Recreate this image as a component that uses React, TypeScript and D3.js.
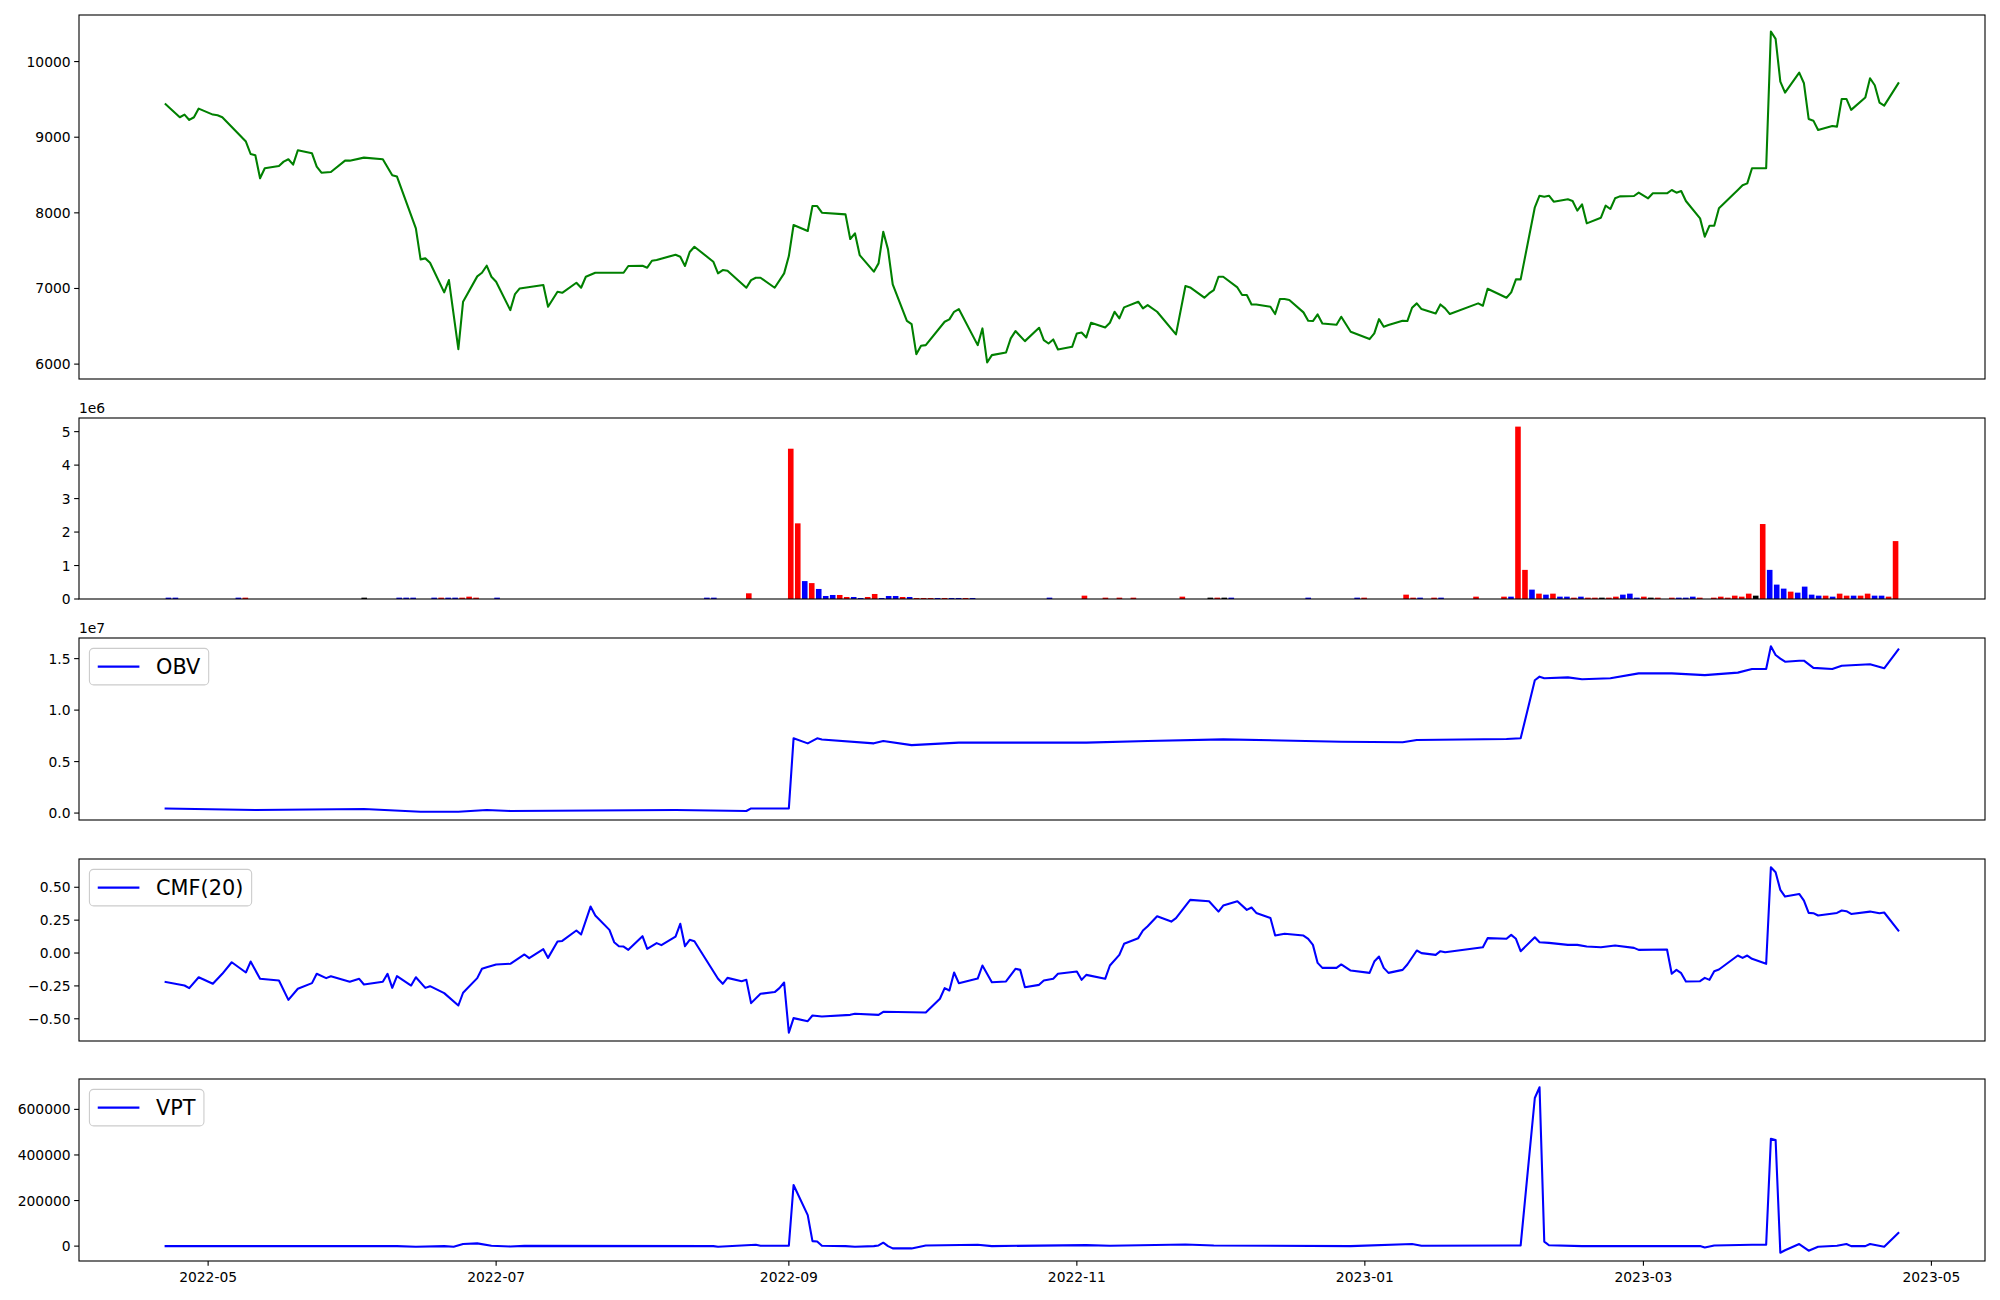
import React from "react";
import * as d3 from "d3";

// ---------------------------------------------------------------------------
// Data
// ---------------------------------------------------------------------------

const PRICE_CLOSE: [string, number][] = [
  ["2022-04-22", 9436], ["2022-04-25", 9264], ["2022-04-26", 9299], ["2022-04-27", 9228], ["2022-04-28", 9264],
  ["2022-04-29", 9378], ["2022-05-02", 9299], ["2022-05-03", 9290], ["2022-05-04", 9264], ["2022-05-09", 8942],
  ["2022-05-10", 8778], ["2022-05-11", 8761], ["2022-05-12", 8457], ["2022-05-13", 8589], ["2022-05-16", 8620],
  ["2022-05-17", 8677], ["2022-05-18", 8708], ["2022-05-19", 8637], ["2022-05-20", 8827], ["2022-05-23", 8787],
  ["2022-05-24", 8611], ["2022-05-25", 8531], ["2022-05-27", 8540], ["2022-05-30", 8690], ["2022-05-31", 8690],
  ["2022-06-03", 8730], ["2022-06-07", 8708], ["2022-06-09", 8496], ["2022-06-10", 8479], ["2022-06-14", 7795],
  ["2022-06-15", 7385], ["2022-06-16", 7398], ["2022-06-17", 7341], ["2022-06-20", 6948], ["2022-06-21", 7111],
  ["2022-06-23", 6198], ["2022-06-24", 6825], ["2022-06-27", 7160], ["2022-06-28", 7208], ["2022-06-29", 7301],
  ["2022-06-30", 7155], ["2022-07-01", 7089], ["2022-07-04", 6714], ["2022-07-05", 6926], ["2022-07-06", 7001],
  ["2022-07-11", 7045], ["2022-07-12", 6759], ["2022-07-14", 6957], ["2022-07-15", 6943], ["2022-07-18", 7076],
  ["2022-07-19", 7010], ["2022-07-20", 7155], ["2022-07-22", 7208], ["2022-07-28", 7208], ["2022-07-29", 7297],
  ["2022-08-01", 7301], ["2022-08-02", 7275], ["2022-08-03", 7367], ["2022-08-04", 7376], ["2022-08-08", 7447],
  ["2022-08-09", 7420], ["2022-08-10", 7297], ["2022-08-11", 7482], ["2022-08-12", 7552], ["2022-08-16", 7354],
  ["2022-08-17", 7200], ["2022-08-18", 7244], ["2022-08-19", 7235], ["2022-08-23", 7010], ["2022-08-24", 7111],
  ["2022-08-25", 7142], ["2022-08-26", 7142], ["2022-08-29", 7010], ["2022-08-31", 7200], ["2022-09-01", 7429],
  ["2022-09-02", 7839], ["2022-09-05", 7760], ["2022-09-06", 8090], ["2022-09-07", 8090], ["2022-09-08", 8002],
  ["2022-09-13", 7980], ["2022-09-14", 7654], ["2022-09-15", 7729], ["2022-09-16", 7442], ["2022-09-19", 7222],
  ["2022-09-20", 7332], ["2022-09-21", 7751], ["2022-09-22", 7517], ["2022-09-23", 7054], ["2022-09-26", 6573],
  ["2022-09-27", 6529], ["2022-09-28", 6132], ["2022-09-29", 6243], ["2022-09-30", 6251], ["2022-10-04", 6560],
  ["2022-10-05", 6591], ["2022-10-06", 6692], ["2022-10-07", 6728], ["2022-10-11", 6251], ["2022-10-12", 6472],
  ["2022-10-13", 6022], ["2022-10-14", 6119], ["2022-10-17", 6154], ["2022-10-18", 6340], ["2022-10-19", 6437],
  ["2022-10-21", 6304], ["2022-10-24", 6481], ["2022-10-25", 6318], ["2022-10-26", 6273], ["2022-10-27", 6326],
  ["2022-10-28", 6194], ["2022-10-31", 6229], ["2022-11-01", 6406], ["2022-11-02", 6419], ["2022-11-03", 6353],
  ["2022-11-04", 6547], ["2022-11-07", 6485], ["2022-11-08", 6547], ["2022-11-09", 6692], ["2022-11-10", 6604],
  ["2022-11-11", 6750], ["2022-11-14", 6825], ["2022-11-15", 6737], ["2022-11-16", 6781], ["2022-11-18", 6692],
  ["2022-11-22", 6393], ["2022-11-24", 7032], ["2022-11-25", 7014], ["2022-11-28", 6878], ["2022-11-29", 6935],
  ["2022-11-30", 6979], ["2022-12-01", 7155], ["2022-12-02", 7155], ["2022-12-05", 7014], ["2022-12-06", 6913],
  ["2022-12-07", 6913], ["2022-12-08", 6789], ["2022-12-09", 6789], ["2022-12-12", 6759], ["2022-12-13", 6662],
  ["2022-12-14", 6860], ["2022-12-15", 6860], ["2022-12-16", 6847], ["2022-12-19", 6684], ["2022-12-20", 6573],
  ["2022-12-21", 6569], ["2022-12-22", 6657], ["2022-12-23", 6538], ["2022-12-26", 6520], ["2022-12-27", 6626],
  ["2022-12-29", 6428], ["2023-01-02", 6331], ["2023-01-03", 6406], ["2023-01-04", 6595], ["2023-01-05", 6494],
  ["2023-01-06", 6516], ["2023-01-09", 6573], ["2023-01-10", 6569], ["2023-01-11", 6745], ["2023-01-12", 6803],
  ["2023-01-13", 6728], ["2023-01-16", 6670], ["2023-01-17", 6789], ["2023-01-18", 6737], ["2023-01-19", 6662],
  ["2023-01-25", 6803], ["2023-01-26", 6772], ["2023-01-27", 6997], ["2023-01-31", 6878], ["2023-02-01", 6948],
  ["2023-02-02", 7120], ["2023-02-03", 7120], ["2023-02-06", 8073], ["2023-02-07", 8227], ["2023-02-08", 8214],
  ["2023-02-09", 8227], ["2023-02-10", 8148], ["2023-02-13", 8179], ["2023-02-14", 8157], ["2023-02-15", 8029],
  ["2023-02-16", 8112], ["2023-02-17", 7861], ["2023-02-20", 7936], ["2023-02-21", 8095], ["2023-02-22", 8051],
  ["2023-02-23", 8192], ["2023-02-24", 8218], ["2023-02-27", 8223], ["2023-02-28", 8267], ["2023-03-02", 8192],
  ["2023-03-03", 8258], ["2023-03-06", 8258], ["2023-03-07", 8302], ["2023-03-08", 8267], ["2023-03-09", 8289],
  ["2023-03-10", 8157], ["2023-03-13", 7927], ["2023-03-14", 7685], ["2023-03-15", 7830], ["2023-03-16", 7830],
  ["2023-03-17", 8060], ["2023-03-21", 8302], ["2023-03-22", 8364], ["2023-03-23", 8390], ["2023-03-24", 8589],
  ["2023-03-27", 8589], ["2023-03-28", 10397], ["2023-03-29", 10300], ["2023-03-30", 9735], ["2023-03-31", 9590],
  ["2023-04-03", 9854], ["2023-04-04", 9713], ["2023-04-05", 9241], ["2023-04-06", 9219], ["2023-04-07", 9096],
  ["2023-04-10", 9149], ["2023-04-11", 9140], ["2023-04-12", 9506], ["2023-04-13", 9506], ["2023-04-14", 9361],
  ["2023-04-17", 9524], ["2023-04-18", 9780], ["2023-04-19", 9687], ["2023-04-20", 9458], ["2023-04-21", 9418],
  ["2023-04-24", 9713],
];

// volume bars are drawn against the trading-day index (0 .. VOLUME_DAYS-1)
const VOLUME_DAYS = 248;
// [day index, volume, R = up / B = down / K = unchanged]
const VOLUME_BARS: [number, number, string][] = [
  [0, 40000, "B"], [1, 40000, "B"], [10, 40000, "B"], [11, 40000, "R"], [28, 40000, "K"],
  [33, 40000, "B"], [34, 40000, "B"], [35, 40000, "B"], [38, 40000, "B"], [39, 40000, "R"],
  [40, 40000, "B"], [41, 40000, "B"], [42, 40000, "R"], [43, 70000, "R"], [44, 40000, "R"],
  [47, 40000, "B"], [77, 40000, "B"], [78, 40000, "B"], [83, 170000, "R"],
  [89, 4490000, "R"], [90, 2260000, "R"], [91, 535000, "B"], [92, 475000, "R"], [93, 300000, "B"],
  [94, 90000, "B"], [95, 120000, "B"], [96, 120000, "R"], [97, 60000, "R"], [98, 60000, "B"],
  [99, 30000, "B"], [100, 60000, "R"], [101, 150000, "R"], [102, 30000, "B"], [103, 90000, "B"],
  [104, 90000, "B"], [105, 60000, "R"], [106, 60000, "B"], [107, 30000, "R"], [108, 30000, "R"],
  [109, 30000, "R"], [110, 30000, "B"], [111, 30000, "R"], [112, 30000, "B"], [113, 30000, "B"],
  [114, 30000, "R"], [115, 30000, "B"],
  [126, 40000, "B"], [131, 100000, "R"], [134, 40000, "R"], [136, 40000, "R"], [138, 40000, "R"],
  [145, 70000, "R"], [149, 40000, "K"], [150, 40000, "R"], [151, 40000, "K"], [152, 40000, "B"],
  [163, 40000, "B"], [170, 40000, "B"], [171, 40000, "R"], [177, 130000, "R"], [178, 40000, "R"],
  [179, 40000, "B"], [181, 40000, "R"], [182, 40000, "B"], [187, 70000, "R"], [191, 70000, "R"],
  [192, 70000, "B"], [193, 5150000, "R"], [194, 870000, "R"], [195, 280000, "B"], [196, 160000, "R"],
  [197, 130000, "B"], [198, 160000, "R"], [199, 70000, "B"], [200, 70000, "B"], [201, 40000, "R"],
  [202, 70000, "B"], [203, 40000, "R"], [204, 40000, "R"], [205, 40000, "K"], [206, 40000, "R"],
  [207, 70000, "R"], [208, 130000, "B"], [209, 160000, "B"], [210, 40000, "B"], [211, 70000, "R"],
  [212, 40000, "K"], [213, 40000, "R"], [215, 40000, "R"], [216, 40000, "B"], [217, 40000, "B"],
  [218, 70000, "B"], [219, 40000, "R"], [221, 40000, "R"], [222, 70000, "R"], [223, 40000, "R"],
  [224, 100000, "R"], [225, 70000, "R"], [226, 160000, "R"], [227, 100000, "K"], [228, 2240000, "R"],
  [229, 870000, "B"], [230, 430000, "B"], [231, 310000, "B"], [232, 220000, "R"], [233, 190000, "B"],
  [234, 370000, "B"], [235, 130000, "B"], [236, 100000, "B"], [237, 100000, "R"], [238, 70000, "B"],
  [239, 160000, "R"], [240, 100000, "R"], [241, 100000, "B"], [242, 100000, "R"], [243, 160000, "R"],
  [244, 100000, "B"], [245, 100000, "B"], [246, 70000, "R"], [247, 1730000, "R"],
];

const OBV: [string, number][] = [
  ["2022-04-22", 450000], ["2022-05-11", 300000], ["2022-06-03", 400000], ["2022-06-15", 130000],
  ["2022-06-23", 130000], ["2022-06-29", 300000], ["2022-07-04", 200000], ["2022-08-08", 300000],
  ["2022-08-23", 200000], ["2022-08-24", 450000], ["2022-09-01", 450000], ["2022-09-02", 7260000],
  ["2022-09-05", 6770000], ["2022-09-07", 7260000], ["2022-09-08", 7150000], ["2022-09-19", 6770000],
  ["2022-09-21", 7000000], ["2022-09-27", 6600000], ["2022-10-07", 6840000], ["2022-10-20", 6840000],
  ["2022-11-03", 6840000], ["2022-11-16", 7000000], ["2022-12-02", 7160000], ["2022-12-27", 6930000],
  ["2023-01-09", 6870000], ["2023-01-12", 7100000], ["2023-01-31", 7200000], ["2023-02-03", 7260000],
  ["2023-02-06", 12900000], ["2023-02-07", 13250000], ["2023-02-08", 13100000], ["2023-02-13", 13180000],
  ["2023-02-16", 13000000], ["2023-02-22", 13100000], ["2023-02-28", 13570000], ["2023-03-07", 13570000],
  ["2023-03-14", 13400000], ["2023-03-21", 13640000], ["2023-03-24", 14000000], ["2023-03-27", 14000000],
  ["2023-03-28", 16200000], ["2023-03-29", 15350000], ["2023-03-30", 15000000], ["2023-03-31", 14700000],
  ["2023-04-03", 14800000], ["2023-04-04", 14800000], ["2023-04-06", 14100000], ["2023-04-10", 14000000],
  ["2023-04-12", 14300000], ["2023-04-18", 14450000], ["2023-04-21", 14060000], ["2023-04-24", 15900000],
];

const CMF20: [string, number][] = [
  ["2022-04-22", -0.22], ["2022-04-26", -0.247], ["2022-04-27", -0.267], ["2022-04-29", -0.184],
  ["2022-05-02", -0.234], ["2022-05-04", -0.158], ["2022-05-06", -0.07], ["2022-05-09", -0.148],
  ["2022-05-10", -0.065], ["2022-05-12", -0.196], ["2022-05-16", -0.209], ["2022-05-18", -0.356],
  ["2022-05-20", -0.272], ["2022-05-23", -0.229], ["2022-05-24", -0.158], ["2022-05-26", -0.191],
  ["2022-05-27", -0.176], ["2022-05-31", -0.219], ["2022-06-02", -0.196], ["2022-06-03", -0.239],
  ["2022-06-07", -0.219], ["2022-06-08", -0.158], ["2022-06-09", -0.265], ["2022-06-10", -0.176],
  ["2022-06-13", -0.247], ["2022-06-14", -0.184], ["2022-06-16", -0.265], ["2022-06-17", -0.252],
  ["2022-06-20", -0.305], ["2022-06-23", -0.399], ["2022-06-24", -0.302], ["2022-06-27", -0.191],
  ["2022-06-28", -0.12], ["2022-06-29", -0.108], ["2022-07-01", -0.087], ["2022-07-04", -0.082],
  ["2022-07-07", -0.011], ["2022-07-08", -0.039], ["2022-07-11", 0.029], ["2022-07-12", -0.037],
  ["2022-07-14", 0.087], ["2022-07-15", 0.092], ["2022-07-18", 0.171], ["2022-07-19", 0.141],
  ["2022-07-21", 0.353], ["2022-07-22", 0.285], ["2022-07-25", 0.176], ["2022-07-26", 0.082],
  ["2022-07-27", 0.052], ["2022-07-28", 0.049], ["2022-07-29", 0.024], ["2022-08-01", 0.128],
  ["2022-08-02", 0.032], ["2022-08-04", 0.075], ["2022-08-05", 0.06], ["2022-08-08", 0.125],
  ["2022-08-09", 0.222], ["2022-08-10", 0.052], ["2022-08-11", 0.1], ["2022-08-12", 0.09],
  ["2022-08-17", -0.196], ["2022-08-18", -0.234], ["2022-08-19", -0.189], ["2022-08-22", -0.214],
  ["2022-08-23", -0.204], ["2022-08-24", -0.381], ["2022-08-26", -0.31], ["2022-08-29", -0.297],
  ["2022-08-30", -0.267], ["2022-08-31", -0.224], ["2022-09-01", -0.606], ["2022-09-02", -0.495],
  ["2022-09-05", -0.518], ["2022-09-06", -0.475], ["2022-09-08", -0.482], ["2022-09-14", -0.47],
  ["2022-09-15", -0.462], ["2022-09-20", -0.47], ["2022-09-21", -0.447], ["2022-09-30", -0.452],
  ["2022-10-03", -0.348], ["2022-10-04", -0.267], ["2022-10-05", -0.285], ["2022-10-06", -0.148],
  ["2022-10-07", -0.229], ["2022-10-11", -0.194], ["2022-10-12", -0.095], ["2022-10-14", -0.222],
  ["2022-10-17", -0.216], ["2022-10-19", -0.12], ["2022-10-20", -0.128], ["2022-10-21", -0.26],
  ["2022-10-24", -0.242], ["2022-10-25", -0.209], ["2022-10-27", -0.196], ["2022-10-28", -0.158],
  ["2022-11-01", -0.14], ["2022-11-02", -0.204], ["2022-11-03", -0.166], ["2022-11-07", -0.196],
  ["2022-11-08", -0.095], ["2022-11-10", -0.014], ["2022-11-11", 0.07], ["2022-11-14", 0.113],
  ["2022-11-15", 0.171], ["2022-11-16", 0.204], ["2022-11-18", 0.28], ["2022-11-21", 0.239],
  ["2022-11-22", 0.265], ["2022-11-25", 0.404], ["2022-11-29", 0.394], ["2022-12-01", 0.315],
  ["2022-12-02", 0.361], ["2022-12-05", 0.394], ["2022-12-07", 0.328], ["2022-12-08", 0.346],
  ["2022-12-09", 0.305], ["2022-12-12", 0.267], ["2022-12-13", 0.133], ["2022-12-15", 0.146],
  ["2022-12-19", 0.133], ["2022-12-20", 0.108], ["2022-12-21", 0.062], ["2022-12-22", -0.075],
  ["2022-12-23", -0.113], ["2022-12-26", -0.113], ["2022-12-27", -0.087], ["2022-12-29", -0.133],
  ["2023-01-02", -0.151], ["2023-01-03", -0.065], ["2023-01-04", -0.027], ["2023-01-05", -0.113],
  ["2023-01-06", -0.151], ["2023-01-09", -0.128], ["2023-01-10", -0.087], ["2023-01-12", 0.019],
  ["2023-01-13", -0.001], ["2023-01-16", -0.014], ["2023-01-17", 0.014], ["2023-01-18", 0.006],
  ["2023-01-26", 0.044], ["2023-01-27", 0.113], ["2023-01-31", 0.108], ["2023-02-01", 0.138],
  ["2023-02-02", 0.108], ["2023-02-03", 0.014], ["2023-02-06", 0.12], ["2023-02-07", 0.082],
  ["2023-02-09", 0.077], ["2023-02-13", 0.062], ["2023-02-15", 0.062], ["2023-02-17", 0.049],
  ["2023-02-20", 0.044], ["2023-02-23", 0.057], ["2023-02-27", 0.039], ["2023-02-28", 0.024],
  ["2023-03-06", 0.027], ["2023-03-07", -0.158], ["2023-03-08", -0.128], ["2023-03-09", -0.153],
  ["2023-03-10", -0.216], ["2023-03-13", -0.214], ["2023-03-14", -0.189], ["2023-03-15", -0.204],
  ["2023-03-16", -0.138], ["2023-03-17", -0.125], ["2023-03-21", -0.019], ["2023-03-22", -0.037],
  ["2023-03-23", -0.019], ["2023-03-24", -0.044], ["2023-03-27", -0.082], ["2023-03-28", 0.652],
  ["2023-03-29", 0.614], ["2023-03-30", 0.48], ["2023-03-31", 0.429], ["2023-04-03", 0.449],
  ["2023-04-04", 0.399], ["2023-04-05", 0.305], ["2023-04-06", 0.303], ["2023-04-07", 0.285],
  ["2023-04-11", 0.305], ["2023-04-12", 0.323], ["2023-04-13", 0.318], ["2023-04-14", 0.297],
  ["2023-04-18", 0.315], ["2023-04-20", 0.303], ["2023-04-21", 0.308], ["2023-04-24", 0.171],
];

const VPT: [string, number][] = [
  ["2022-04-22", 0], ["2022-06-10", 0], ["2022-06-14", -3000], ["2022-06-20", 0], ["2022-06-22", -3000],
  ["2022-06-24", 9000], ["2022-06-27", 12000], ["2022-06-30", 1500], ["2022-07-04", -1500], ["2022-07-07", 1000],
  ["2022-08-16", 0], ["2022-08-17", -3000], ["2022-08-22", 3000], ["2022-08-25", 6000], ["2022-08-26", 1500],
  ["2022-09-01", 1500], ["2022-09-02", 268000], ["2022-09-05", 136000], ["2022-09-06", 22000], ["2022-09-07", 20000],
  ["2022-09-08", 1500], ["2022-09-13", 0], ["2022-09-15", -3000], ["2022-09-19", 0], ["2022-09-20", 3000],
  ["2022-09-21", 15000], ["2022-09-22", 0], ["2022-09-23", -10000], ["2022-09-27", -10000], ["2022-09-30", 3000],
  ["2022-10-11", 6000], ["2022-10-14", 0], ["2022-11-03", 4500], ["2022-11-08", 1500], ["2022-11-24", 7000],
  ["2022-11-30", 3000], ["2022-12-29", 0], ["2023-01-11", 9000], ["2023-01-13", 1500], ["2023-02-01", 3000],
  ["2023-02-03", 3000], ["2023-02-06", 650000], ["2023-02-07", 697000], ["2023-02-08", 20000], ["2023-02-09", 4000],
  ["2023-02-16", 0], ["2023-03-13", 0], ["2023-03-14", -6000], ["2023-03-16", 3000], ["2023-03-24", 6000],
  ["2023-03-27", 6000], ["2023-03-28", 471000], ["2023-03-29", 466000], ["2023-03-30", -29000], ["2023-03-31", -18000],
  ["2023-04-03", 9000], ["2023-04-05", -20000], ["2023-04-07", -3000], ["2023-04-11", 1500], ["2023-04-13", 9000],
  ["2023-04-14", 0], ["2023-04-17", 0], ["2023-04-18", 9000], ["2023-04-21", -3000], ["2023-04-24", 58000],
];

const DATE_TICKS = ["2022-05-01", "2022-07-01", "2022-09-01", "2022-11-01", "2023-01-01", "2023-03-01", "2023-05-01"];
const PRICE_TICKS = [6000, 7000, 8000, 9000, 10000];
const VOLUME_TICKS = [0, 1e6, 2e6, 3e6, 4e6, 5e6];
const OBV_TICKS = [0, 5e6, 1e7, 1.5e7];
const CMF_TICKS = [-0.5, -0.25, 0, 0.25, 0.5];
const VPT_TICKS = [0, 200000, 400000, 600000];

// ---------------------------------------------------------------------------
// Layout / style
// ---------------------------------------------------------------------------

const W = 2000;
const H = 1300;
const LEFT = 79;
const RIGHT = 1985;
const PANELS = [
  { top: 15, bottom: 379 },
  { top: 418, bottom: 599 },
  { top: 638, bottom: 820 },
  { top: 859, bottom: 1041 },
  { top: 1079, bottom: 1261 },
];
const FONT = "DejaVu Sans";
const FS = 13.89; // 10pt @ 100dpi
const LEGEND_FS = 20.83; // 15pt
const TICK_LEN = 4.86;
const LINE_W = 2.08;
const BAR_COLORS: Record<string, string> = { R: "#ff0000", B: "#0000ff", K: "#000000" };

const parse = d3.timeParse("%Y-%m-%d");
const minus = (s: string) => s.replace("-", "\u2212");

function padded(lo: number, hi: number): [number, number] {
  const p = (hi - lo) * 0.05;
  return [lo - p, hi + p];
}

function textWidth(text: string, size: number) {
  const ctx = document.createElement("canvas").getContext("2d");
  if (!ctx) return text.length * size * 0.65;
  ctx.font = `${size}px "${FONT}"`;
  return ctx.measureText(text).width;
}

type Scale = (v: number) => number;

function YAxis({ y, ticks, fmt }: { y: Scale; ticks: number[]; fmt: (v: number) => string }) {
  return (
    <g>
      {ticks.map((t) => (
        <g key={t}>
          <line x1={LEFT - TICK_LEN} x2={LEFT} y1={y(t)} y2={y(t)} stroke="#000" strokeWidth={1.1} />
          <text x={LEFT - TICK_LEN - 3.5} y={y(t)} dy="0.36em" textAnchor="end" fontSize={FS} fontFamily={FONT}>
            {fmt(t)}
          </text>
        </g>
      ))}
    </g>
  );
}

function Frame({ top, bottom }: { top: number; bottom: number }) {
  return <rect x={LEFT} y={top} width={RIGHT - LEFT} height={bottom - top} fill="none" stroke="#000" strokeWidth={1.1} />;
}

function Legend({ top, label, color }: { top: number; label: string; color: string }) {
  const pad = 0.4 * LEGEND_FS;
  const hl = 2 * LEGEND_FS;
  const htp = 0.8 * LEGEND_FS;
  const x0 = LEFT + 0.5 * LEGEND_FS;
  const y0 = top + 0.5 * LEGEND_FS;
  const tw = textWidth(label, LEGEND_FS);
  const w = pad + hl + htp + tw + pad;
  const h = LEGEND_FS + 2 * pad - 1;
  const cy = y0 + h / 2;
  return (
    <g>
      <rect x={x0} y={y0} width={w} height={h} rx={0.2 * LEGEND_FS} fill="#fff" fillOpacity={0.8} stroke="#cccccc" strokeWidth={1.1} />
      <line x1={x0 + pad} x2={x0 + pad + hl} y1={cy} y2={cy} stroke={color} strokeWidth={LINE_W} />
      <text x={x0 + pad + hl + htp} y={cy} dy="0.36em" fontSize={LEGEND_FS} fontFamily={FONT}>
        {label}
      </text>
    </g>
  );
}

// ---------------------------------------------------------------------------
// Component
// ---------------------------------------------------------------------------

export default function App() {
  const toSeries = (rows: [string, number][]) => rows.map(([d, v]) => [parse(d) as Date, v] as [Date, number]);
  const price = toSeries(PRICE_CLOSE);
  const obv = toSeries(OBV);
  const cmf = toSeries(CMF20);
  const vpt = toSeries(VPT);

  const allDates = [...price, ...obv, ...cmf, ...vpt].map((d) => d[0].getTime());
  const [t0, t1] = padded(d3.min(allDates)!, d3.max(allDates)!);
  const x = d3.scaleTime().domain([new Date(t0), new Date(t1)]).range([LEFT, RIGHT]);

  const yScale = (vals: number[], p: { top: number; bottom: number }, zeroBase = false) => {
    const lo = zeroBase ? 0 : d3.min(vals)!;
    const hi = d3.max(vals)!;
    const [a, b] = padded(d3.min(vals)!, hi);
    return d3.scaleLinear().domain([zeroBase ? lo : a, b]).range([p.bottom, p.top]);
  };

  const yPrice = yScale(price.map((d) => d[1]), PANELS[0]);
  const yVol = yScale(VOLUME_BARS.map((d) => d[1]).concat([0]), PANELS[1], true);
  const yObv = yScale(obv.map((d) => d[1]), PANELS[2]);
  const yCmf = yScale(cmf.map((d) => d[1]), PANELS[3]);
  const yVpt = yScale(vpt.map((d) => d[1]), PANELS[4]);

  const xVol = d3.scaleLinear().domain(padded(-0.4, VOLUME_DAYS - 1 + 0.4)).range([LEFT, RIGHT]);
  const barW = xVol(0.8) - xVol(0);

  const path = (data: [Date, number][], y: Scale) =>
    d3.line<[Date, number]>().x((d) => x(d[0])).y((d) => y(d[1]))(data) ?? "";

  const lineProps = { fill: "none", strokeWidth: LINE_W, strokeLinejoin: "round" as const, strokeLinecap: "square" as const };

  return (
    <svg width={W} height={H} style={{ position: "absolute", left: 0, top: 0, background: "#fff" }}>
      <rect x={0} y={0} width={W} height={H} fill="#fff" />

      {/* price */}
      <path d={path(price, yPrice)} stroke="#008000" {...lineProps} />
      <YAxis y={yPrice} ticks={PRICE_TICKS} fmt={(v) => String(v)} />
      <Frame {...PANELS[0]} />

      {/* volume */}
      <g>
        {VOLUME_BARS.map(([i, v, dir]) => (
          <rect
            key={i}
            x={xVol(i - 0.4)}
            y={yVol(v)}
            width={barW}
            height={yVol(0) - yVol(v)}
            fill={BAR_COLORS[dir]}
          />
        ))}
      </g>
      <YAxis y={yVol} ticks={VOLUME_TICKS} fmt={(v) => String(v / 1e6)} />
      <text x={LEFT} y={PANELS[1].top - 5} fontSize={FS} fontFamily={FONT}>1e6</text>
      <Frame {...PANELS[1]} />

      {/* OBV */}
      <path d={path(obv, yObv)} stroke="#0000ff" {...lineProps} />
      <YAxis y={yObv} ticks={OBV_TICKS} fmt={(v) => (v / 1e7).toFixed(1)} />
      <text x={LEFT} y={PANELS[2].top - 5} fontSize={FS} fontFamily={FONT}>1e7</text>
      <Legend top={PANELS[2].top} label="OBV" color="#0000ff" />
      <Frame {...PANELS[2]} />

      {/* CMF */}
      <path d={path(cmf, yCmf)} stroke="#0000ff" {...lineProps} />
      <YAxis y={yCmf} ticks={CMF_TICKS} fmt={(v) => minus(v.toFixed(2))} />
      <Legend top={PANELS[3].top} label="CMF(20)" color="#0000ff" />
      <Frame {...PANELS[3]} />

      {/* VPT */}
      <path d={path(vpt, yVpt)} stroke="#0000ff" {...lineProps} />
      <YAxis y={yVpt} ticks={VPT_TICKS} fmt={(v) => String(v)} />
      <Legend top={PANELS[4].top} label="VPT" color="#0000ff" />
      <Frame {...PANELS[4]} />

      {/* date axis */}
      <g>
        {DATE_TICKS.map((d) => {
          const px = x(parse(d) as Date);
          return (
            <g key={d}>
              <line x1={px} x2={px} y1={PANELS[4].bottom} y2={PANELS[4].bottom + TICK_LEN} stroke="#000" strokeWidth={1.1} />
              <text x={px} y={PANELS[4].bottom + 21} textAnchor="middle" fontSize={FS} fontFamily={FONT}>
                {d3.timeFormat("%Y-%m")(parse(d) as Date)}
              </text>
            </g>
          );
        })}
      </g>
    </svg>
  );
}
